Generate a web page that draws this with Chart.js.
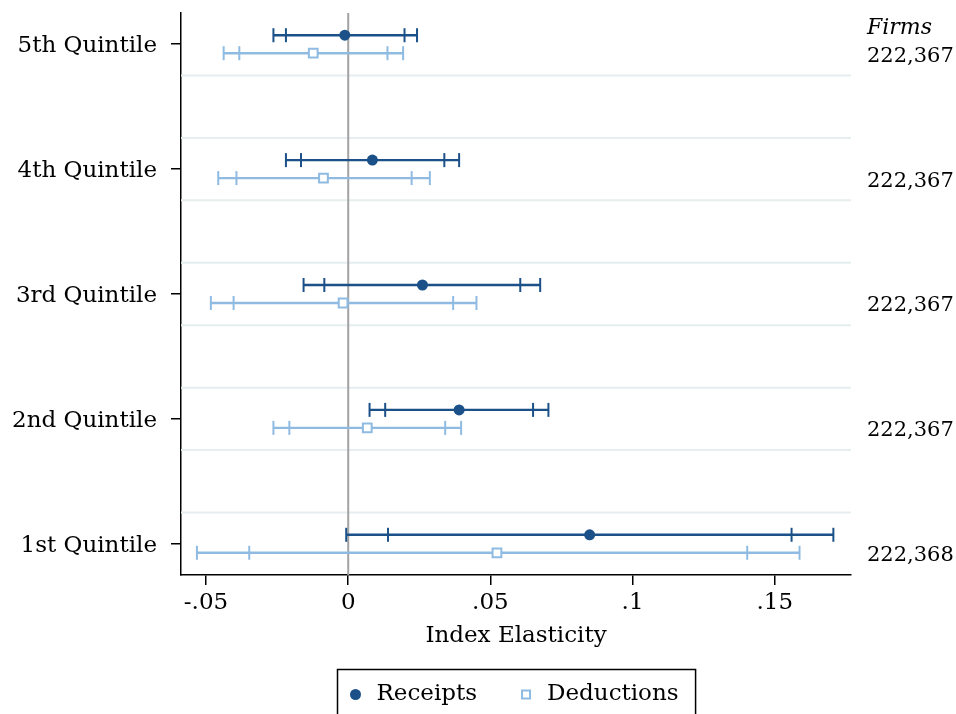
<!DOCTYPE html>
<html>
<head>
<meta charset="utf-8">
<script src="https://cdn.jsdelivr.net/npm/chart.js@4/dist/chart.umd.min.js"></script>
<style>
  html, body { margin: 0; padding: 0; background: #fff; }
</style>
</head>
<body>
<canvas id="graficoQuintis" width="956" height="714"></canvas>
<script>
// rows from bottom (1st) to top (5th)
const quintiles = ['1st Quintile', '2nd Quintile', '3rd Quintile', '4th Quintile', '5th Quintile'];
const firms = ['222,368', '222,367', '222,367', '222,367', '222,367'];

const receiptsEst  = [0.0849, 0.0390, 0.0261, 0.0085, -0.0012];
const receiptsLo95 = [-0.0007, 0.0075, -0.0157, -0.0219, -0.0263];
const receiptsLo90 = [0.0140, 0.0130, -0.0084, -0.0166, -0.0219];
const receiptsHi90 = [0.1559, 0.0650, 0.0605, 0.0338, 0.0198];
const receiptsHi95 = [0.1706, 0.0704, 0.0675, 0.0390, 0.0242];

const deductionsEst  = [0.0523, 0.0067, -0.0018, -0.0087, -0.0123];
const deductionsLo95 = [-0.0532, -0.0263, -0.0483, -0.0457, -0.0438];
const deductionsLo90 = [-0.0348, -0.0207, -0.0403, -0.0393, -0.0383];
const deductionsHi90 = [0.1403, 0.0341, 0.0369, 0.0223, 0.0138];
const deductionsHi95 = [0.1587, 0.0397, 0.0451, 0.0287, 0.0193];

const xTicks = [-0.05, 0, 0.05, 0.1, 0.15];
const xTickLabels = ['-.05', '0', '.05', '.1', '.15'];

const corReceitas = '#1b5188';
const corDeducoes = '#8fbbe2';
const fonte = 'DejaVu Serif';
const desloc = 0.072;

Chart.defaults.font.family = fonte;
Chart.defaults.font.size = 23;
Chart.defaults.color = '#000';

function pontos(est, sinal) {
    return est.map((v, i) => ({ x: v, y: i + 1 + sinal * desloc }));
}

function intervalo(lo95, lo90, hi90, hi95, i, sinal, cor) {
    const y = i + 1 + sinal * desloc;
    return {
        data: [lo95[i], lo90[i], hi90[i], hi95[i]].map(v => ({ x: v, y: y })),
        showLine: true,
        borderColor: cor,
        borderWidth: 2.4,
        pointStyle: 'line',
        pointRotation: 90,
        pointRadius: 7,
        pointBorderColor: cor,
        pointBorderWidth: 2,
    };
}

const datasets = [
    {
        label: 'Receipts',
        data: pontos(receiptsEst, 1),
        pointStyle: 'circle',
        pointRadius: 5.5,
        pointBackgroundColor: corReceitas,
        pointBorderWidth: 0,
    },
    {
        label: 'Deductions',
        data: pontos(deductionsEst, -1),
        pointStyle: 'rect',
        pointRadius: 6.2,
        pointBackgroundColor: '#fff',
        pointBorderColor: corDeducoes,
        pointBorderWidth: 2,
    },
];
quintiles.forEach((q, i) => {
    datasets.push(intervalo(receiptsLo95, receiptsLo90, receiptsHi90, receiptsHi95, i, 1, corReceitas));
    datasets.push(intervalo(deductionsLo95, deductionsLo90, deductionsHi90, deductionsHi95, i, -1, corDeducoes));
});

const extras = {
    id: 'extras',
    beforeDatasetsDraw(chart) {
        const { ctx, chartArea: a, scales: { x, y } } = chart;
        ctx.save();
        ctx.strokeStyle = '#e6eef0';
        ctx.lineWidth = 2;
        for (let k = 1; k < quintiles.length; k++) {
            [k + 0.25, k + 0.75].forEach(v => {
                const py = y.getPixelForValue(v);
                ctx.beginPath();
                ctx.moveTo(a.left, py);
                ctx.lineTo(a.right, py);
                ctx.stroke();
            });
        }
        const zx = x.getPixelForValue(0);
        ctx.strokeStyle = '#a3a3a3';
        ctx.beginPath();
        ctx.moveTo(zx, a.top);
        ctx.lineTo(zx, a.bottom);
        ctx.stroke();
        ctx.restore();
    },
    afterDraw(chart) {
        const { ctx, chartArea: a, scales: { y } } = chart;
        ctx.save();
        ctx.fillStyle = '#000';
        ctx.textBaseline = 'middle';
        ctx.textAlign = 'left';
        const tx = a.right + 16;
        ctx.font = 'italic 22px "' + fonte + '"';
        ctx.fillText('Firms', tx, y.getPixelForValue(quintiles.length) - 16);
        ctx.font = '21px "' + fonte + '"';
        firms.forEach((f, i) => ctx.fillText(f, tx, y.getPixelForValue(i + 1) + 12));

        // legend box
        ctx.font = '23px "' + fonte + '"';
        const wR = ctx.measureText('Receipts').width;
        const wD = ctx.measureText('Deductions').width;
        const total = 18 + 21 + wR + 49 + 21 + wD + 17;
        const bx = Math.round((a.left + a.right) / 2 - total / 2) + 0.5;
        const by = 669.5;
        ctx.strokeStyle = '#000';
        ctx.lineWidth = 1.5;
        ctx.strokeRect(bx, by, total, 60);
        const ly = by + 25;
        let cx = bx + 18;
        ctx.fillStyle = corReceitas;
        ctx.beginPath();
        ctx.arc(cx, ly, 5.5, 0, Math.PI * 2);
        ctx.fill();
        ctx.fillStyle = '#000';
        ctx.fillText('Receipts', cx + 21, ly);
        cx += 21 + wR + 49;
        ctx.strokeStyle = corDeducoes;
        ctx.lineWidth = 2;
        ctx.strokeRect(cx - 4, ly - 4, 8, 8);
        ctx.fillText('Deductions', cx + 21, ly);
        ctx.restore();
    }
};

new Chart(document.getElementById('graficoQuintis'), {
    type: 'scatter',
    data: { datasets: datasets },
    options: {
        responsive: false,
        animation: false,
        devicePixelRatio: 1,
        events: [],
        layout: { padding: { top: 13, right: 105, bottom: 64, left: 0 } },
        plugins: { legend: { display: false }, tooltip: { enabled: false } },
        scales: {
            x: {
                type: 'linear',
                min: -0.0588,
                max: 0.1768,
                afterBuildTicks: axis => { axis.ticks = xTicks.map(v => ({ value: v })); },
                afterFit: axis => { axis.height = 75; axis.paddingLeft = 0; axis.paddingRight = 0; },
                ticks: {
                    padding: 4,
                    maxRotation: 0,
                    callback: (v, i) => xTickLabels[i],
                },
                grid: { drawOnChartArea: false, tickLength: 10, color: '#000', lineWidth: 1.5 },
                border: { color: '#000', width: 1.5 },
                title: { display: true, text: 'Index Elasticity', padding: { top: 4, bottom: 0 } },
            },
            y: {
                type: 'linear',
                min: 0.75,
                max: 5.25,
                afterBuildTicks: axis => { axis.ticks = quintiles.map((q, i) => ({ value: i + 1 })); },
                afterFit: axis => { axis.width = 181; axis.paddingTop = 0; axis.paddingBottom = 0; },
                ticks: {
                    padding: 14,
                    labelOffset: 2,
                    callback: (v, i) => quintiles[i],
                },
                grid: { drawOnChartArea: false, tickLength: 10, color: '#000', lineWidth: 1.5 },
                border: { color: '#000', width: 1.5 },
            },
        },
    },
    plugins: [extras],
});
</script>
</body>
</html>
